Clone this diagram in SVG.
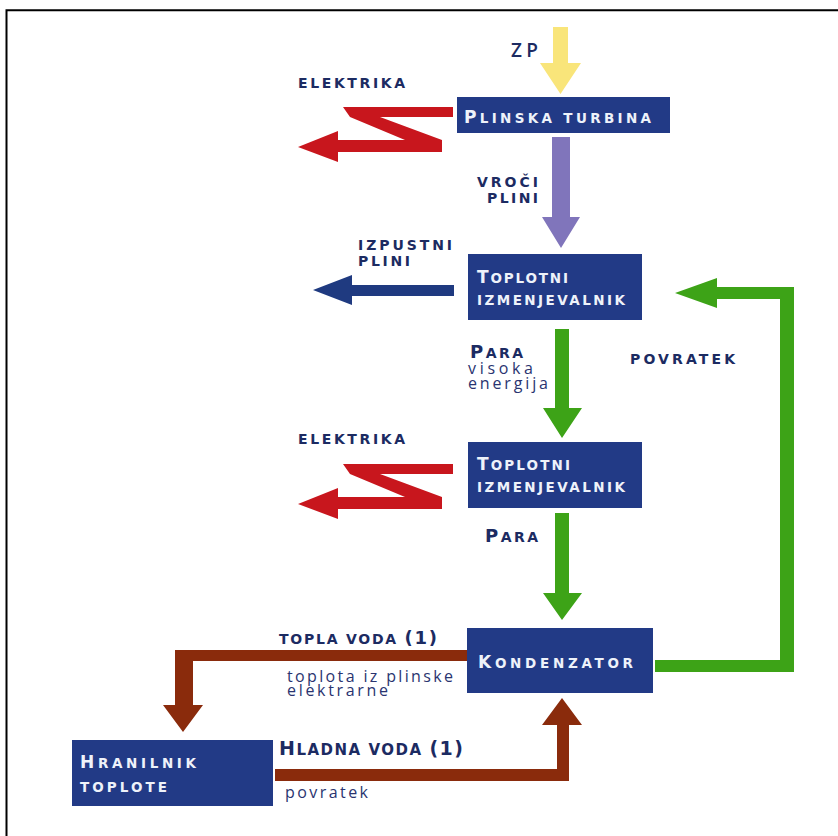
<svg xmlns="http://www.w3.org/2000/svg" width="838" height="836" viewBox="0 0 838 836">
<style>
.box{fill:#223a86}
.bt{font-family:"DejaVu Sans","Open Sans",sans-serif;font-weight:bold;font-size:13.5px;fill:#eef2fa}
.bt .c{font-size:17px}
.lb{font-family:"DejaVu Sans","Open Sans",sans-serif;font-weight:bold;font-size:14px;fill:#1c2b62}
.sc{font-family:"DejaVu Sans","Open Sans",sans-serif;font-weight:bold;font-size:14px;fill:#1c2b62}
.sc .c{font-size:18px}
.rg{font-family:"Open Sans","DejaVu Sans",sans-serif;font-size:16px;fill:#2a3470}
</style>
<defs>
<polygon id="zarrow" points="343,107 453,107 453,117 380,117 442,140 442,152 338,152 338,162 298,147 338,131 338,140 405,140 350,117" fill="#c8161d"/>
</defs>
<rect width="838" height="836" fill="#ffffff"/>
<path d="M6.5,836 V10.3 H838" fill="none" stroke="#000" stroke-width="2"/>

<g id="connectors">
<polygon id="zp" points="553,27 568,27 568,63 581,63 560.5,94 540,63 553,63" fill="#f9e57a"/>
<use href="#zarrow"/>
<use href="#zarrow" transform="translate(0,357)"/>
<polygon id="vroci" points="552,137 570,137 570,217 580,217 561,248 542,217 552,217" fill="#8075bb"/>
<polygon id="izpust" points="454,285 454,296 352,296 352,305 313,290 352,275 352,285" fill="#1f3a80"/>
<polygon id="para1" points="555,329 569,329 569,408 582,408 562,438 543,408 555,408" fill="#3da317"/>
<polygon id="para2" points="555,513 569,513 569,593 582,593 562,620 543,593 555,593" fill="#3da317"/>
<polygon id="povratek" points="655,660 780,660 780,299 717,299 717,308 675,293 717,278 717,287 794,287 794,672 655,672" fill="#3da317"/>
<polygon id="topla" points="468,650 468,661 193,661 193,705 203,705 183,732 163,705 175,705 175,650" fill="#8a2b0c"/>
<polygon id="hladna" points="275,769 557,769 557,725 542,725 562,698 582,725 569,725 569,781 275,781" fill="#8a2b0c"/>

<text class="rg" x="511" y="57" style="font-size:19px;font-weight:600;fill:#1c2b62" textLength="27">ZP</text>
<text class="lb" x="298" y="88" textLength="107">ELEKTRIKA</text>
<text class="lb" x="298" y="444" textLength="107">ELEKTRIKA</text>
<text class="lb" x="477" y="187" textLength="61">VROČI</text>
<text class="lb" x="487" y="203" textLength="51">PLINI</text>
<text class="lb" x="358" y="250" textLength="94">IZPUSTNI</text>
<text class="lb" x="358" y="266" textLength="52">PLINI</text>
<text class="lb" x="630" y="364" textLength="105">POVRATEK</text>
<text class="sc" x="470" y="358" textLength="53"><tspan class="c">P</tspan>ARA</text>
<text class="rg" x="468" y="374" textLength="65">visoka</text>
<text class="rg" x="468" y="389" textLength="80">energija</text>
<text class="sc" x="485" y="542" textLength="53"><tspan class="c">P</tspan>ARA</text>
<text class="sc" x="279" y="644" style="font-size:14px" textLength="158">TOPLA VODA <tspan style="font-size:18px">(1)</tspan></text>
<text class="rg" x="287" y="682" textLength="166">toplota iz plinske</text>
<text class="rg" x="287" y="696" textLength="101">elektrarne</text>
<text class="sc" x="279" y="755" style="font-size:15px" textLength="184"><tspan class="c" style="font-size:19px">H</tspan>LADNA VODA <tspan style="font-size:19px">(1)</tspan></text>
<text class="rg" x="285" y="798" textLength="83">povratek</text>
</g>

<g id="plinska-turbina">
<rect class="box" x="457" y="97" width="213" height="36"/>
<text class="bt" x="464" y="123" textLength="187"><tspan class="c">P</tspan>LINSKA TURBINA</text>
</g>
<g id="toplotni-izmenjevalnik-1">
<rect class="box" x="468" y="254" width="174" height="66"/>
<text class="bt" x="477" y="283" textLength="91"><tspan class="c">T</tspan>OPLOTNI</text>
<text class="bt" x="477" y="305" textLength="148">IZMENJEVALNIK</text>
</g>
<g id="toplotni-izmenjevalnik-2">
<rect class="box" x="468" y="442" width="174" height="66"/>
<text class="bt" x="477" y="470" textLength="93"><tspan class="c">T</tspan>OPLOTNI</text>
<text class="bt" x="477" y="492" textLength="148">IZMENJEVALNIK</text>
</g>
<g id="kondenzator">
<rect class="box" x="467" y="628" width="186" height="65"/>
<text class="bt" x="478" y="668" textLength="155"><tspan class="c">K</tspan>ONDENZATOR</text>
</g>
<g id="hranilnik-toplote">
<rect class="box" x="72" y="740" width="201" height="66"/>
<text class="bt" x="80" y="768" textLength="116"><tspan class="c">H</tspan>RANILNIK</text>
<text class="bt" x="80" y="792" textLength="87">TOPLOTE</text>
</g>
</svg>
